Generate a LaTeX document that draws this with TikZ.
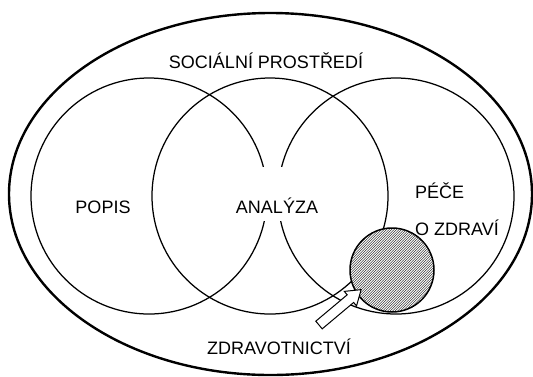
\documentclass[tikz,border=0pt]{standalone}
\usepackage{fontspec}
\setmainfont{Liberation Sans}
\usetikzlibrary{patterns}
\pgfdeclarepatternformonly{finehatch}{\pgfqpoint{-1pt}{-1pt}}{\pgfqpoint{3.5pt}{3.5pt}}{\pgfqpoint{2.5pt}{2.5pt}}{%
  \pgfsetlinewidth{0.35pt}%
  \pgfpathmoveto{\pgfqpoint{-0.1pt}{-0.1pt}}%
  \pgfpathlineto{\pgfqpoint{2.6pt}{2.6pt}}%
  \pgfusepath{stroke}}
\begin{document}
\begin{tikzpicture}[x=1pt,y=-1pt,
  lbl/.style={font=\fontsize{18}{20}\selectfont, inner sep=0pt},
  venn/.style={draw, line width=1.25pt},
  outerline/.style={draw, line width=2.4pt},
  hatchc/.style={draw, line width=1.5pt},
  blockarrow/.style={draw, fill=white, line width=1pt, line join=miter}]
\useasboundingbox (0,0) rectangle (533,376);
% outer ellipse
\path[outerline] (270.5,194) ellipse [x radius=261.5, y radius=181];
% three circles
\path[venn] (149,196) circle [radius=118];
\path[venn] (270,196) circle [radius=118];
\path[venn] (396,196) circle [radius=118];
% white gap behind ANALYZA
\node[fill=white, minimum width=44pt, minimum height=54pt, inner sep=0pt] (gap) at (272,194) {};
% hatched circle
\path[fill=white] (392,270) circle [radius=42];
\path[pattern=finehatch] (392,270) circle [radius=41.5];
\path[hatchc] (392,270) circle [radius=42];
% labels
\node[lbl, anchor=base] (soc) at (266,68) {SOCIÁLNÍ PROSTŘEDÍ};
\node[lbl, anchor=base] (popis) at (103,213) {POPIS};
\node[lbl, anchor=base] (anal) at (277,213) {ANALÝZA};
\node[lbl, anchor=base west] (pece) at (415,198) {PÉČE};
\node[lbl, anchor=base west] (ozdr) at (415,235) {O ZDRAVÍ};
\node[lbl, anchor=base] (zdrav) at (279,354) {ZDRAVOTNICTVÍ};
% block arrow
\coordinate (tail) at (319,325);
\begin{scope}[shift={(tail)}, rotate=40]
\path[blockarrow] (0,-5) -- (41,-5) -- (41,-9.5) -- (55,0) coordinate (tip) -- (41,9.5) -- (41,5) -- (0,5) -- cycle;
\end{scope}
\end{tikzpicture}
\end{document}
